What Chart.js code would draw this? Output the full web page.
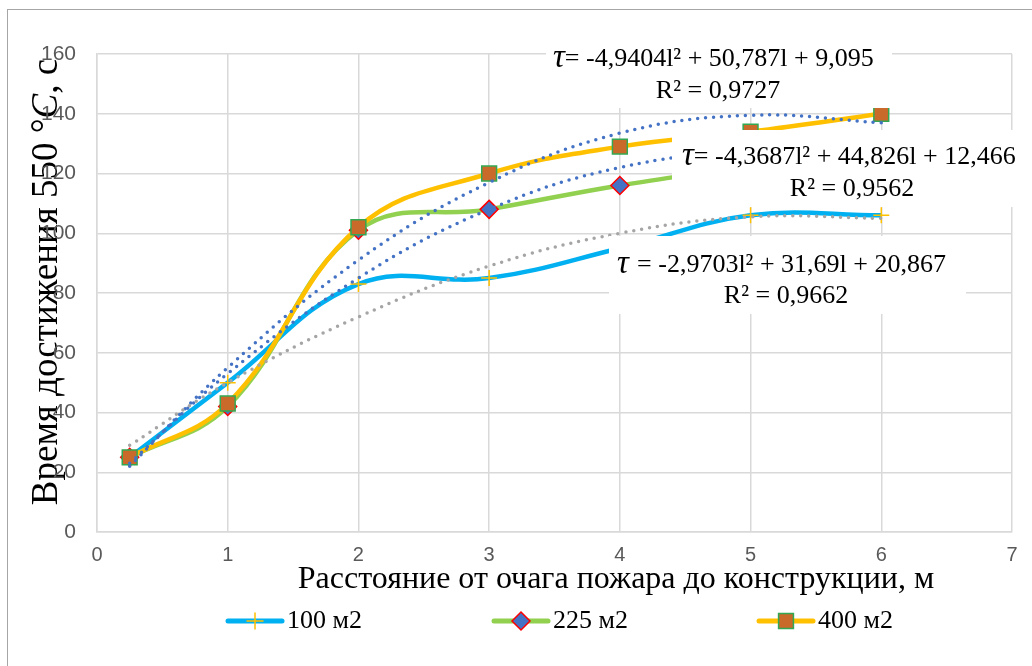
<!DOCTYPE html>
<html>
<head>
<meta charset="utf-8">
<script src="https://cdn.jsdelivr.net/npm/chart.js@4.4.1/dist/chart.umd.min.js"></script>
<style>
  body { margin: 0; background: #fff; }
  #wrap { position: relative; width: 1032px; height: 666px; overflow: hidden; }
  #frame { position: absolute; left: 7px; top: 9px; width: 1040px; height: 680px;
           border-left: 1.5px solid #a6a6a6; border-top: 1.5px solid #a6a6a6; pointer-events: none; }
</style>
</head>
<body>
<div id="wrap">
  <canvas id="chart" width="1032" height="666"></canvas>
  <div id="frame"></div>
</div>
<script>
// distance from the fire source, m
const distances = [0.25, 1, 2, 3, 4, 5, 6];
const seriesNames = ['100 м2', '225 м2', '400 м2'];

// time to reach 550 °C, s
const time100 = [25, 50, 83, 85, 95, 106, 106];
const time225 = [25, 42, 101, 108, 116, 122, 125];
const time400 = [25, 43, 102, 120, 129, 134, 140];

// polynomial trendlines
const trend100 = [29, 50, 72, 89, 100, 105.5, 105];
const trend225 = [23, 53, 85, 108, 122, 127, 124];
const trend400 = [22, 55, 91, 117, 133.5, 139.5, 137];

const xTicks = [0, 1, 2, 3, 4, 5, 6, 7];
const yTicks = [0, 20, 40, 60, 80, 100, 120, 140, 160];

const eqTau = ['τ', 'τ', 'τ '];
const eqText = ['= -4,9404l² + 50,787l + 9,095', '= -4,3687l² + 44,826l + 12,466', '= -2,9703l² + 31,69l + 20,867'];
const eqR2 = ['R² = 0,9727', 'R² = 0,9562', 'R² = 0,9662'];

const xTitle = 'Расстояние от очага пожара до конструкции, м';
const yTitleParts = ['Время достижения 550 °', 'C', ', с'];

const pts = arr => distances.map((x, i) => ({ x: x, y: arr[i] }));

const serif = '"Liberation Serif", "Times New Roman", serif';

// white boxes with the trendline equations
const eqLayout = [
  { box: [546, 38, 346, 70], l1: [553, 59], l2: [718, 91] },
  { box: [672, 130, 360, 77], l1: [682, 157], l2: [852, 189] },
  { box: [609, 236, 357, 78], l1: [617, 265], l2: [786, 296] }
];

const labelsPlugin = {
  id: 'eqLabels',
  beforeDraw(chart) {
    // y axis title, C in italics (tick labels go over it)
    const ctx = chart.ctx;
    ctx.save();
    ctx.fillStyle = '#000';
    ctx.textBaseline = 'middle';
    ctx.translate(47, 282);
    ctx.rotate(-Math.PI / 2);
    const fN = '37px ' + serif, fI = 'italic 37px ' + serif;
    const fonts = [fN, fI, fN];
    let total = 0;
    yTitleParts.forEach((t, i) => { ctx.font = fonts[i]; total += ctx.measureText(t).width; });
    let x = -total / 2;
    ctx.textAlign = 'left';
    yTitleParts.forEach((t, i) => { ctx.font = fonts[i]; ctx.fillText(t, x, 0); x += ctx.measureText(t).width; });
    ctx.restore();
  },
  afterDatasetsDraw(chart) {
    const ctx = chart.ctx;
    ctx.save();
    eqLayout.forEach((p, i) => {
      ctx.fillStyle = '#fff';
      ctx.fillRect(p.box[0], p.box[1], p.box[2], p.box[3]);
      ctx.fillStyle = '#000';
      ctx.textBaseline = 'middle';
      ctx.textAlign = 'left';
      ctx.font = 'italic 33px ' + serif;
      ctx.fillText(eqTau[i], p.l1[0], p.l1[1] - 1);
      const w = ctx.measureText(eqTau[i]).width;
      ctx.font = '26px ' + serif;
      ctx.fillText(eqText[i], p.l1[0] + w, p.l1[1]);
      ctx.textAlign = 'center';
      ctx.fillText(eqR2[i], p.l2[0], p.l2[1]);
    });
    ctx.restore();
  },
  afterDraw(chart) {
    const ctx = chart.ctx;
    ctx.save();
    ctx.fillStyle = '#000';
    ctx.textBaseline = 'middle';
    // x axis title
    ctx.font = '32px ' + serif;
    ctx.textAlign = 'center';
    ctx.fillText(xTitle, 616, 580);
    // legend: line with marker in the middle
    const legendX = [228, 494, 759];
    const y = 621;
    [0, 1, 2].forEach(i => {
      const ds = chart.data.datasets[i];
      ctx.strokeStyle = ds.borderColor;
      ctx.lineWidth = 5;
      ctx.lineCap = 'round';
      ctx.beginPath();
      ctx.moveTo(legendX[i], y);
      ctx.lineTo(legendX[i] + 54, y);
      ctx.stroke();
      ctx.fillStyle = ds.pointBackgroundColor;
      ctx.strokeStyle = ds.pointBorderColor;
      ctx.lineWidth = ds.pointBorderWidth;
      Chart.helpers.drawPoint(ctx, { pointStyle: ds.pointStyle, rotation: 0, radius: ds.pointRadius, borderWidth: ds.pointBorderWidth }, legendX[i] + 27, y);
      ctx.fillStyle = '#000';
      ctx.font = '26px ' + serif;
      ctx.textAlign = 'left';
      ctx.fillText(seriesNames[i], legendX[i] + 59, y);
    });
    ctx.restore();
  }
};

const trend = (arr, color) => ({
  data: pts(arr),
  borderColor: color,
  borderWidth: 3.5,
  borderDash: [0, 8],
  borderCapStyle: 'round',
  pointRadius: 0,
  tension: 0.4,
  fill: false,
  order: 0
});

new Chart(document.getElementById('chart'), {
  type: 'line',
  data: {
    datasets: [
      {
        label: seriesNames[0], data: pts(time100),
        borderColor: '#00B0F0', borderWidth: 4.5, tension: 0.4,
        pointStyle: 'cross', pointRadius: 8, pointBorderColor: '#FFC000', pointBackgroundColor: '#FFC000', pointBorderWidth: 1.5,
        order: 3
      },
      {
        label: seriesNames[1], data: pts(time225),
        borderColor: '#92D050', borderWidth: 4.5, tension: 0.4,
        pointStyle: 'rectRot', pointRadius: 9, pointBorderColor: '#FF0000', pointBackgroundColor: '#4472C4', pointBorderWidth: 1.5,
        order: 2
      },
      {
        label: seriesNames[2], data: pts(time400),
        borderColor: '#FFC000', borderWidth: 4.5, tension: 0.4,
        pointStyle: 'rect', pointRadius: 10.5, pointBorderColor: '#33A852', pointBackgroundColor: '#C96A2B', pointBorderWidth: 1.5,
        order: 1
      },
      trend(trend100, '#A5A5A5'),
      trend(trend225, '#4472C4'),
      trend(trend400, '#4472C4')
    ]
  },
  options: {
    responsive: false,
    animation: false,
    layout: { padding: { left: 22, right: 20, top: 54, bottom: 66 } },
    plugins: { legend: { display: false }, tooltip: { enabled: false } },
    scales: {
      x: {
        type: 'linear', min: 0, max: 7,
        afterBuildTicks: s => { s.ticks = xTicks.map(v => ({ value: v })); },
        afterFit: s => { s.height = 68; },
        grid: { color: '#D9D9D9', lineWidth: 1.5, drawTicks: false },
        border: { color: '#D9D9D9', width: 1.5 },
        ticks: { color: '#595959', font: { family: 'Liberation Sans', size: 20 }, padding: 11, maxRotation: 0 }
      },
      y: {
        type: 'linear', min: 0, max: 160,
        afterBuildTicks: s => { s.ticks = yTicks.map(v => ({ value: v })); },
        afterFit: s => { s.width = 75; },
        grid: { color: '#D9D9D9', lineWidth: 1.5, drawTicks: false },
        border: { color: '#D9D9D9', width: 1.5 },
        ticks: { color: '#595959', font: { family: 'Liberation Sans', size: 21 }, padding: 21 }
      }
    }
  },
  plugins: [labelsPlugin]
});
</script>
</body>
</html>
